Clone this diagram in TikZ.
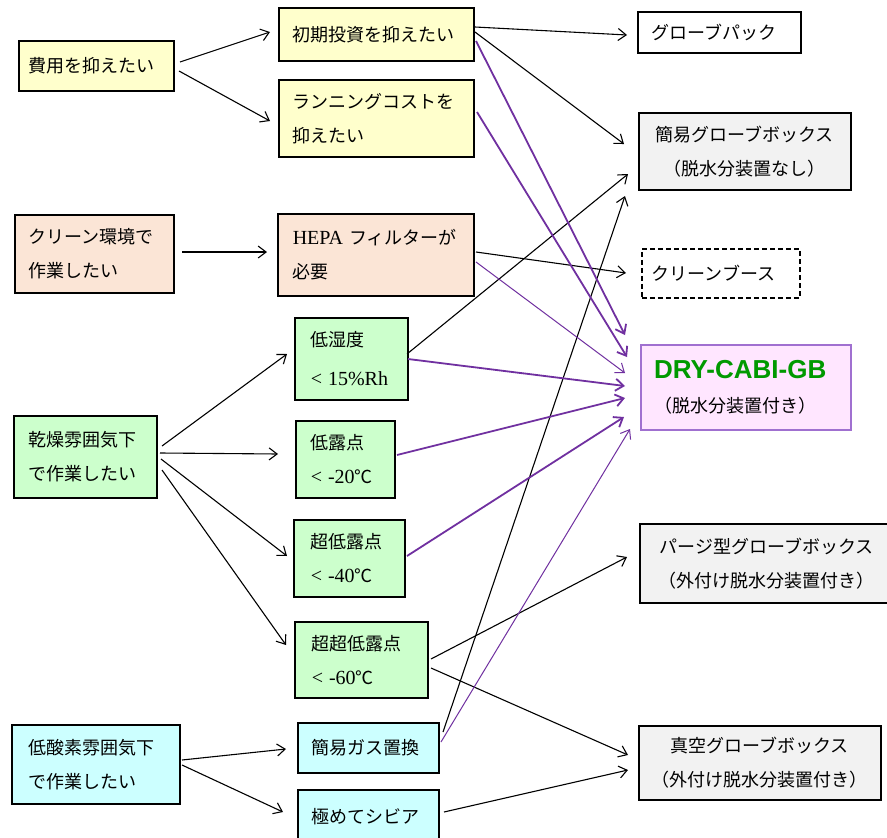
\documentclass[tikz,border=0pt]{standalone}
\usepackage{fontspec}
\setmainfont{Noto Sans CJK JP}
\newfontfamily\lat{Liberation Serif}
\newfontfamily\arial{Liberation Sans}
\usetikzlibrary{arrows.meta}
\definecolor{yel}{HTML}{FFFFCC}
\definecolor{peach}{HTML}{FBE5D6}
\definecolor{grn}{HTML}{CCFFCC}
\definecolor{cyn}{HTML}{CCFFFF}
\definecolor{gry}{HTML}{F2F2F2}
\definecolor{pnk}{HTML}{FFE6FF}
\definecolor{pborder}{HTML}{A070D0}
\definecolor{parr}{HTML}{7030A0}
\definecolor{dgreen}{HTML}{009900}
\newcommand\latin[1]{{\lat\fontsize{20}{34}\selectfont #1}}
\newcommand\bx[8]{%
  \pgfmathsetmacro\bxw{#5-#3}%
  \pgfmathsetmacro\bxh{#6-#4}%
  \pgfmathsetmacro\bxt{#5-#3-2*#7}%
  \node[box,#2,minimum width=\bxw pt,minimum height=\bxh pt,text width=\bxt pt,inner xsep=#7pt] (#1) at (#3,#4) {#8};}
\tikzset{
  box/.style={draw=black, line width=1.5pt, rectangle, anchor=north west, inner ysep=0pt,
    align=left, font=\fontsize{18}{34}\selectfont},
  arr/.style={-{Straight Barb[length=8pt,width=12pt]}, line width=1.1pt, draw=black},
  parrk/.style={arr, draw=parr, line width=1.8pt},
  parrn/.style={arr, draw=parr, line width=1.0pt},
}
\begin{document}
\begin{tikzpicture}[x=1pt,y=-1pt]
\useasboundingbox (0,0) rectangle (887,838);
\fill[white] (0,0) rectangle (887,838);
% left column
\bx{hiyou}{fill=yel}{18}{40}{173}{90}{10}{費用を抑えたい}
\bx{clean}{fill=peach}{14}{214}{173}{292}{14}{クリーン環境で\\作業したい}
\bx{kansou}{fill=grn}{13}{415}{156}{497}{15}{乾燥雰囲気下\\で作業したい}
\bx{teisanso}{fill=cyn}{11}{724}{179}{803}{17}{低酸素雰囲気下\\で作業したい}
% middle column
\bx{shoki}{fill=yel}{278}{7}{473}{60}{14}{初期投資を抑えたい}
\bx{run}{fill=yel}{278}{79}{473}{156}{14}{ランニングコストを\\抑えたい}
\bx{hepa}{fill=peach}{277}{213}{473}{295}{15}{\latin{HEPA}~フィルターが\\必要}
\bx{shitsu}{fill=grn}{294}{317}{407}{399}{16}{低湿度\\[5pt]\latin{<~15\%Rh}}
\bx{roten}{fill=grn}{295}{420}{394}{497}{15}{低露点\\\latin{<~-20}℃}
\bx{chou}{fill=grn}{293}{519}{404}{596}{17}{超低露点\\\latin{<~-40}℃}
\bx{chouchou}{fill=grn}{294}{621}{427}{697}{17}{超超低露点\\\latin{<~-60}℃}
\bx{kanigas}{fill=cyn}{297}{722}{438}{772}{14}{簡易ガス置換}
\bx{shibia}{fill=cyn}{297}{789}{438}{842}{14}{極めてシビア}
% right column
\bx{pack}{fill=white}{637}{11}{800}{52}{14}{グローブパック}
\bx{kanigb}{fill=gry,align=center}{638}{112}{850}{189}{4}{簡易グローブボックス\\（脱水分装置なし）}
\bx{booth}{fill=white,dash pattern=on 5pt off 3pt}{641}{248}{799}{297}{10}{クリーンブース}
\bx{dry}{fill=pnk,draw=pborder,line width=2pt}{640}{344}{850}{429}{13}{{\arial\bfseries\fontsize{26}{30}\selectfont\color{dgreen}DRY-CABI-GB}\\（脱水分装置付き）}
\bx{purge}{fill=gry,align=center}{639}{523}{893}{602}{4}{パージ型グローブボックス\\（外付け脱水分装置付き）}
\bx{vacuum}{fill=gry,align=center}{638}{725}{880}{799}{4}{真空グローブボックス\\（外付け脱水分装置付き）}
% black connectors
\draw[arr] ([shift={(162,22)}]hiyou.north west) -- ([shift={(-8,25)}]shoki.north west);
\draw[arr] ([shift={(161,31)}]hiyou.north west) -- ([shift={(-8,42)}]run.north west);
\draw[arr] ([shift={(168,38)}]clean.north west) -- ([shift={(-10,39)}]hepa.north west);
\draw[arr] ([shift={(197,20)}]shoki.north west) -- ([shift={(-10,24)}]pack.north west);
\draw[arr] ([shift={(197,25)}]shoki.north west) -- ([shift={(-14,32)}]kanigb.north west);
\draw[arr] ([shift={(199,39)}]hepa.north west) -- ([shift={(-15,25)}]booth.north west);
\draw[arr] ([shift={(113,37)}]shitsu.north west) -- ([shift={(-10,62)}]kanigb.north west);
\draw[arr] ([shift={(146,10)}]kanigas.north west) -- ([shift={(-13,84)}]kanigb.north west);
\draw[arr] ([shift={(149,31)}]kansou.north west) -- ([shift={(-7,37)}]shitsu.north west);
\draw[arr] ([shift={(147,38)}]kansou.north west) -- ([shift={(-17,34)}]roten.north west);
\draw[arr] ([shift={(148,44)}]kansou.north west) -- ([shift={(-6,37)}]chou.north west);
\draw[arr] ([shift={(149,55)}]kansou.north west) -- ([shift={(-8,24)}]chouchou.north west);
\draw[arr] ([shift={(137,38)}]chouchou.north west) -- ([shift={(-12,34)}]purge.north west);
\draw[arr] ([shift={(137,47)}]chouchou.north west) -- ([shift={(-10,30)}]vacuum.north west);
\draw[arr] ([shift={(171,36)}]teisanso.north west) -- ([shift={(-11,27)}]kanigas.north west);
\draw[arr] ([shift={(171,41)}]teisanso.north west) -- ([shift={(-14,23)}]shibia.north west);
\draw[arr] ([shift={(147,23)}]shibia.north west) -- ([shift={(-10,45)}]vacuum.north west);
% purple connectors
\draw[parrk] ([shift={(198,34)}]shoki.north west) -- ([shift={(-15,-9)}]dry.north west);
\draw[parrk] ([shift={(199,33)}]run.north west) -- ([shift={(-13,13)}]dry.north west);
\draw[parrn] ([shift={(199,49)}]hepa.north west) -- ([shift={(-15,29)}]dry.north west);
\draw[parrk] ([shift={(114,42)}]shitsu.north west) -- ([shift={(-15,42)}]dry.north west);
\draw[parrk] ([shift={(102,35)}]roten.north west) -- ([shift={(-15,54)}]dry.north west);
\draw[parrk] ([shift={(114,37)}]chou.north west) -- ([shift={(-16,73)}]dry.north west);
\draw[parrn] ([shift={(144,20)}]kanigas.north west) -- ([shift={(-10,85)}]dry.north west);
\end{tikzpicture}
\end{document}
